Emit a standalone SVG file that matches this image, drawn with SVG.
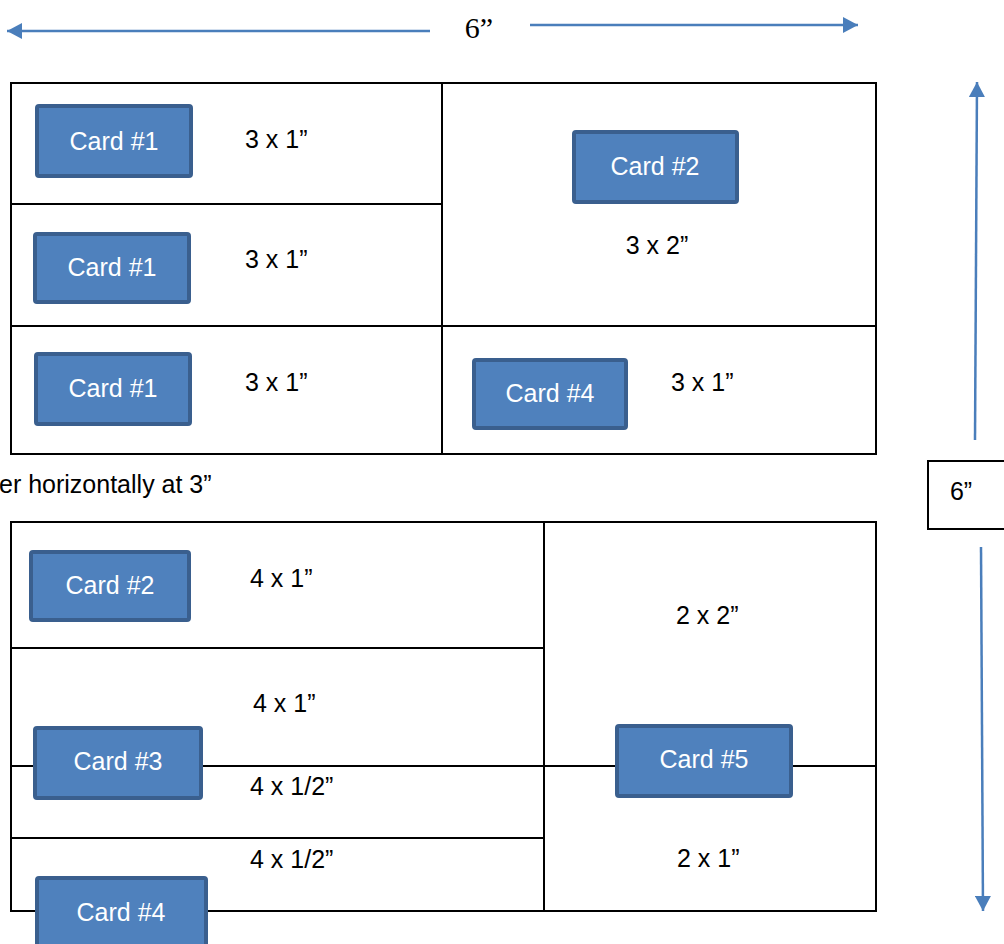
<svg xmlns="http://www.w3.org/2000/svg" width="1004" height="944" viewBox="0 0 1004 944">
<style>
.frame{fill:none;stroke:#000;stroke-width:2}
.ln{stroke:#000;stroke-width:2}
.card{fill:#4F81BD;stroke:#3A5F8E;stroke-width:4}
.ct{font-family:"Liberation Sans",Arial,sans-serif;font-size:25px;fill:#fff;text-anchor:middle}
.lb{font-family:"Liberation Sans",Arial,sans-serif;font-size:25px;fill:#000}
.arr{stroke:#4A7EBB;stroke-width:2.5;fill:none}
</style>
<defs>
<marker id="ah" markerUnits="userSpaceOnUse" markerWidth="16" markerHeight="16" viewBox="0 0 15 16" refX="15" refY="8" orient="auto">
<path d="M0,0 L15,8 L0,16 z" fill="#4A7EBB"/>
</marker>
</defs>
<rect width="1004" height="944" fill="#fff"/>

<g id="connectors">
<line class="arr" x1="430" y1="31" x2="7" y2="31" marker-end="url(#ah)"/>
<line class="arr" x1="530" y1="25" x2="858" y2="25" marker-end="url(#ah)"/>
<line class="arr" x1="975" y1="440" x2="977" y2="82" marker-end="url(#ah)"/>
<line class="arr" x1="981" y1="547" x2="983" y2="911" marker-end="url(#ah)"/>
</g>

<g id="dim-top-label">
<text x="479" y="38" font-family="'Liberation Serif','Times New Roman',serif" font-size="30" text-anchor="middle">6”</text>
</g>

<g id="dim-right-label">
<rect x="928" y="461" width="80" height="68" class="frame"/>
<text x="961" y="500" class="lb" text-anchor="middle">6”</text>
</g>

<g id="table-top">
<rect x="11" y="83" width="865" height="371" class="frame"/>
<line class="ln" x1="442" y1="83" x2="442" y2="454"/>
<line class="ln" x1="11" y1="204" x2="442" y2="204"/>
<line class="ln" x1="11" y1="326" x2="876" y2="326"/>
<text class="lb" x="245" y="148">3 x 1”</text>
<text class="lb" x="245" y="268">3 x 1”</text>
<text class="lb" x="245" y="391">3 x 1”</text>
<text class="lb" x="657" y="254" text-anchor="middle">3 x 2”</text>
<text class="lb" x="671" y="391">3 x 1”</text>
</g>

<g id="top-card1-a"><rect class="card" x="37" y="106" width="154" height="70" rx="2"/><text class="ct" x="114" y="150">Card #1</text></g>
<g id="top-card1-b"><rect class="card" x="35" y="234" width="154" height="68" rx="2"/><text class="ct" x="112" y="276">Card #1</text></g>
<g id="top-card1-c"><rect class="card" x="36" y="354" width="154" height="70" rx="2"/><text class="ct" x="113" y="397">Card #1</text></g>
<g id="top-card2"><rect class="card" x="574" y="132" width="163" height="70" rx="2"/><text class="ct" x="655" y="175">Card #2</text></g>
<g id="top-card4"><rect class="card" x="474" y="360" width="152" height="68" rx="2"/><text class="ct" x="550" y="402">Card #4</text></g>

<g id="caption">
<text class="lb" x="-1" y="493" font-size="26">er horizontally at 3”</text>
</g>

<g id="table-bottom">
<rect x="11" y="522" width="865" height="389" class="frame"/>
<line class="ln" x1="544" y1="522" x2="544" y2="911"/>
<line class="ln" x1="11" y1="648" x2="544" y2="648"/>
<line class="ln" x1="11" y1="766" x2="876" y2="766"/>
<line class="ln" x1="11" y1="838" x2="544" y2="838"/>
<text class="lb" x="250" y="587">4 x 1”</text>
<text class="lb" x="676" y="624">2 x 2”</text>
<text class="lb" x="253" y="712">4 x 1”</text>
<text class="lb" x="250" y="795">4 x 1/2”</text>
<text class="lb" x="250" y="868">4 x 1/2”</text>
<text class="lb" x="677" y="867">2 x 1”</text>
</g>

<g id="bottom-card2"><rect class="card" x="31" y="552" width="158" height="68" rx="2"/><text class="ct" x="110" y="594">Card #2</text></g>
<g id="bottom-card3"><rect class="card" x="35" y="728" width="166" height="70" rx="2"/><text class="ct" x="118" y="770">Card #3</text></g>
<g id="bottom-card5"><rect class="card" x="617" y="726" width="174" height="70" rx="2"/><text class="ct" x="704" y="768">Card #5</text></g>
<g id="bottom-card4"><rect class="card" x="37" y="878" width="169" height="72" rx="2"/><text class="ct" x="121" y="921">Card #4</text></g>
</svg>
